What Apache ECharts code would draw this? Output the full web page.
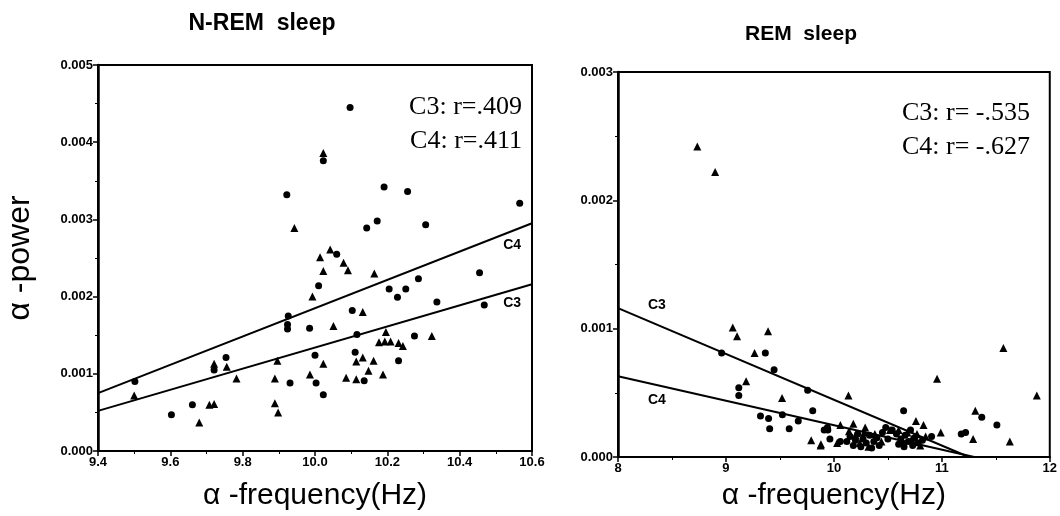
<!DOCTYPE html>
<html>
<head>
<meta charset="utf-8">
<title>alpha power vs alpha frequency</title>
<script src="https://cdn.jsdelivr.net/npm/echarts@6/dist/echarts.min.js"></script>
<style>html,body{margin:0;padding:0;background:#fff;}</style>
</head>
<body>
<div id="main" style="width:1060px;height:516px;"></div>
<script type="text/javascript">
// N-REM sleep, [frequency Hz, power]
var nremCircles = [
  [9.502,0.00090],[9.603,0.00047],[9.661,0.00060],[9.721,0.00105],[9.754,0.00121],
  [9.922,0.00332],[9.926,0.00175],[9.924,0.00164],[9.924,0.00158],[9.931,0.00088],
  [9.985,0.00159],[10.000,0.00124],[10.003,0.00088],[10.010,0.00214],[10.023,0.00376],
  [10.023,0.00073],[10.060,0.00255],[10.097,0.00445],[10.103,0.00182],[10.111,0.00128],
  [10.116,0.00151],[10.136,0.00091],[10.143,0.00289],[10.172,0.00298],[10.191,0.00342],
  [10.205,0.00210],[10.228,0.00199],[10.231,0.00117],[10.251,0.00210],[10.256,0.00336],
  [10.275,0.00149],[10.286,0.00223],[10.306,0.00293],[10.337,0.00193],[10.455,0.00231],
  [10.468,0.00189],[10.566,0.00321]
];
var nremTriangles = [
  [9.500,0.00072],[9.680,0.00037],[9.708,0.00060],[9.721,0.00061],[9.721,0.00113],
  [9.756,0.00109],[9.783,0.00094],[9.889,0.00094],[9.889,0.00062],[9.898,0.00050],
  [9.896,0.00117],[9.943,0.00289],[9.986,0.00099],[9.993,0.00200],[10.014,0.00251],
  [10.023,0.00233],[10.023,0.00113],[10.023,0.00386],[10.042,0.00261],[10.051,0.00162],
  [10.079,0.00244],[10.086,0.00095],[10.091,0.00234],[10.114,0.00093],[10.114,0.00116],
  [10.132,0.00121],[10.132,0.00180],[10.148,0.00104],[10.162,0.00117],[10.164,0.00230],
  [10.177,0.00141],[10.188,0.00099],[10.193,0.00142],[10.196,0.00154],[10.209,0.00142],
  [10.231,0.00140],[10.243,0.00136],[10.323,0.00149]
];
var nremC3Line = [[9.4,0.00052],[10.6,0.00216]];
var nremC4Line = [[9.4,0.00075],[10.6,0.00295]];
var nremLineTags = [['C4',10.545,0.00267],['C3',10.545,0.00192]];
var nremR = ['C3: r=.409','C4: r=.411'];

// REM sleep
var remCircles = [
  [8.960,0.00081],[9.119,0.00054],[9.119,0.00048],[9.320,0.00032],[9.365,0.00081],
  [9.395,0.00030],[9.405,0.00022],[9.446,0.00068],[9.523,0.00033],[9.586,0.00022],
  [9.670,0.00028],[9.757,0.00052],[9.804,0.00036],[9.910,0.00021],[9.944,0.00021],
  [9.963,0.00014],[9.940,0.00023],[10.060,0.00012],[10.480,0.00023],[10.540,0.00021],
  [10.646,0.00036],[10.905,0.00016],[11.180,0.00018],[11.220,0.00019],[11.370,0.00031],
  [11.510,0.00025],
  [10.12,0.00012],[10.15,0.00016],[10.18,0.00009],[10.20,0.00013],[10.22,0.00018],
  [10.25,0.00008],[10.27,0.00014],[10.30,0.00011],[10.33,0.00017],[10.35,0.00007],
  [10.37,0.00012],[10.40,0.00015],[10.42,0.00009],[10.45,0.00019],[10.50,0.00014],
  [10.58,0.00018],[10.60,0.00010],[10.62,0.00014],[10.65,0.00008],[10.66,0.00017],
  [10.69,0.00012],[10.71,0.00021],[10.73,0.00009],[10.75,0.00015],[10.78,0.00011],
  [10.82,0.00013]
];
var remTriangles = [
  [8.735,0.00242],[8.900,0.00222],[9.063,0.00101],[9.103,0.00094],[9.187,0.00059],
  [9.265,0.00081],[9.390,0.00098],[9.520,0.00046],[9.790,0.00013],[9.877,0.00009],
  [9.880,0.00010],[10.030,0.00011],[10.060,0.00025],[10.135,0.00048],[10.180,0.00026],
  [10.290,0.00023],[10.760,0.00028],[10.830,0.00025],[10.956,0.00061],[10.990,0.00019],
  [11.290,0.00014],[11.310,0.00036],[11.570,0.00085],[11.630,0.00012],[11.880,0.00048],
  [10.14,0.00020],[10.20,0.00017],[10.24,0.00011],[10.28,0.00019],[10.32,0.00008],
  [10.38,0.00018],[10.44,0.00012],[10.52,0.00021],
  [10.60,0.00021],[10.64,0.00012],[10.68,0.00019],[10.72,0.00014],[10.77,0.00018],
  [10.80,0.00009],[10.85,0.00016]
];
var remC3Line = [[8,0.00116],[11.25,0]];
var remC4Line = [[8,0.00063],[11.3,0]];
var remLineTags = [['C3',8.36,0.00118],['C4',8.36,0.000445]];
var remR = ['C3: r= -.535','C4: r= -.627'];

var myChart = echarts.init(document.getElementById('main'));

var tickFont = {color:'#000', fontFamily:'Liberation Sans', fontWeight:'bold', fontSize:13};

function xAx(idx, mn, mx, step, dec, gap){
  return {
    gridIndex: idx, type:'value', min: mn, max: mx, interval: step,
    name: 'α -frequency(Hz)', nameLocation:'middle', nameGap: gap,
    nameTextStyle: {color:'#000', fontFamily:'Liberation Sans', fontSize:30},
    axisLine: {onZero:false, lineStyle:{color:'#000', width:2}},
    axisTick: {length:5, lineStyle:{color:'#000', width:1.5}},
    minorTick: {show:true, splitNumber:2, length:3, lineStyle:{color:'#000'}},
    axisLabel: Object.assign({margin:5, formatter:function(v){return v.toFixed(dec);}}, tickFont),
    splitLine: {show:false}
  };
}
function yAx(idx, mx, named){
  return {
    gridIndex: idx, type:'value', min:0, max: mx, interval:0.001,
    name: named ? 'α -power' : '', nameLocation:'middle', nameGap: 62,
    nameTextStyle: {color:'#000', fontFamily:'Liberation Sans', fontSize:32},
    axisLine: {onZero:false, lineStyle:{color:'#000', width:2.5}},
    axisTick: {length:5, lineStyle:{color:'#000', width:1.5}},
    minorTick: {show:true, splitNumber:2, length:3, lineStyle:{color:'#000'}},
    axisLabel: Object.assign({margin:5, formatter:function(v){return v.toFixed(3);}}, tickFont),
    splitLine: {show:false}
  };
}
function dots(idx, data, shape, size){
  return {type:'scatter', xAxisIndex:idx, yAxisIndex:idx, symbol:shape, symbolSize:size,
    itemStyle:{color:'#000', opacity:1}, data:data, silent:true};
}
function fit(idx, data){
  return {type:'line', xAxisIndex:idx, yAxisIndex:idx, data:data, showSymbol:false,
    lineStyle:{color:'#000', width:2}, silent:true};
}
function tags(idx, list){
  return {type:'scatter', xAxisIndex:idx, yAxisIndex:idx, symbolSize:0, silent:true,
    itemStyle:{color:'#000', opacity:1},
    data: list.map(function(t){return {name:t[0], value:[t[1],t[2]]};}),
    label:{show:true, position:'inside', formatter:'{b}', color:'#000', opacity:1,
      textBorderWidth:0, fontFamily:'Liberation Sans', fontWeight:'bold', fontSize:14}};
}

var rFont = '26px "Liberation Serif"';

var option = {
  animation: false,
  backgroundColor: '#fff',
  title: [
    {text:'N-REM  sleep', left:257, top:7, textAlign:'center',
      textStyle:{color:'#000', fontFamily:'Liberation Sans', fontWeight:'bold', fontSize:23}},
    {text:'REM  sleep', left:796, top:19, textAlign:'center',
      textStyle:{color:'#000', fontFamily:'Liberation Sans', fontWeight:'bold', fontSize:21}}
  ],
  grid: [
    {left:98, top:65, width:434, height:388, show:true, borderColor:'#000', borderWidth:2},
    {left:618, top:72, width:437, height:387, show:true, borderColor:'#000', borderWidth:2}
  ],
  xAxis: [xAx(0, 9.4, 10.6, 0.2, 1, 30), xAx(1, 8, 12, 1, 0, 24)],
  yAxis: [yAx(0, 0.005, true), yAx(1, 0.003, false)],
  series: [
    dots(0, nremCircles, 'circle', 7),
    dots(0, nremTriangles, 'triangle', 8),
    fit(0, nremC3Line),
    fit(0, nremC4Line),
    tags(0, nremLineTags),
    dots(1, remCircles, 'circle', 7),
    dots(1, remTriangles, 'triangle', 8),
    fit(1, remC3Line),
    fit(1, remC4Line),
    tags(1, remLineTags)
  ],
  graphic: [
    {type:'text', x:522, y:107, style:{text:nremR[0], font:rFont, fill:'#000', textAlign:'right', textVerticalAlign:'middle'}},
    {type:'text', x:522, y:141, style:{text:nremR[1], font:rFont, fill:'#000', textAlign:'right', textVerticalAlign:'middle'}},
    {type:'text', x:1030, y:113, style:{text:remR[0], font:rFont, fill:'#000', textAlign:'right', textVerticalAlign:'middle'}},
    {type:'text', x:1030, y:147, style:{text:remR[1], font:rFont, fill:'#000', textAlign:'right', textVerticalAlign:'middle'}}
  ]
};

myChart.setOption(option);
</script>
</body>
</html>
